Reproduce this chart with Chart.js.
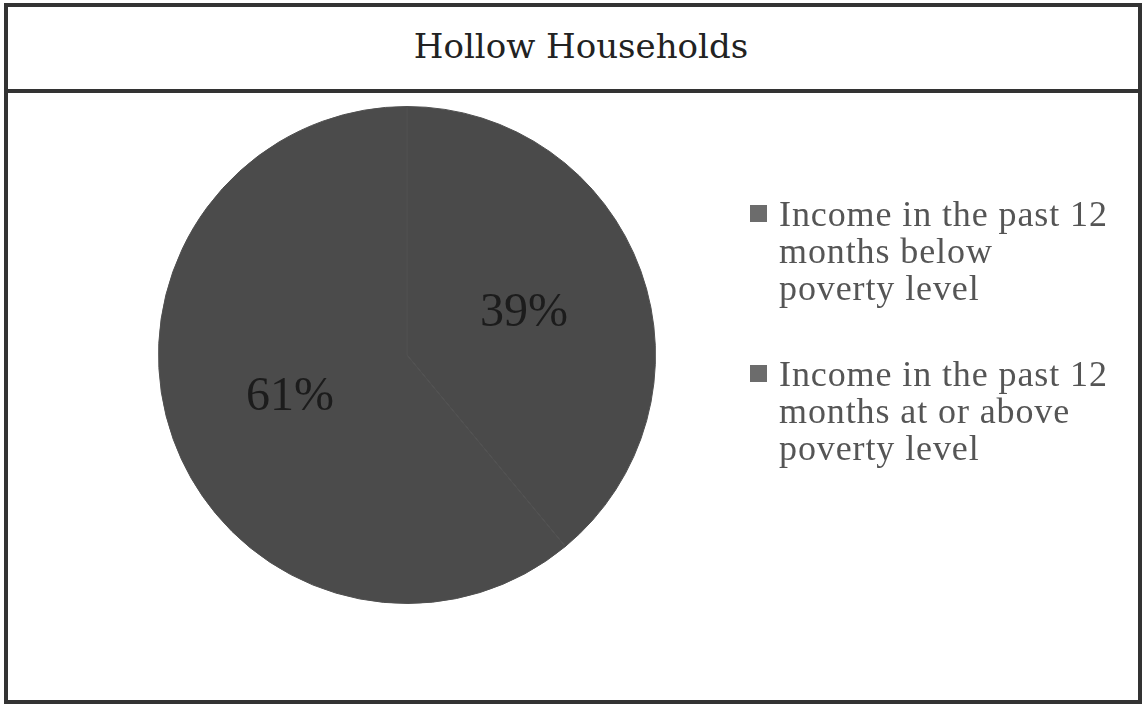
<!DOCTYPE html>
<html lang="en">
<head>
  <meta charset="UTF-8" />
  <title>Hollow Households</title>
  <script src="https://cdn.jsdelivr.net/npm/chart.js"></script>
  <style>
    body {
      margin: 0;
      background: #ffffff;
      width: 1142px;
      height: 707px;
      position: relative;
      overflow: hidden;
    }
    .frame {
      position: absolute;
      left: 4px;
      top: 3px;
      width: 1138px;
      height: 701px;
      border: 4px solid #333333;
      box-sizing: border-box;
    }
    .header {
      position: absolute;
      left: 0;
      top: 0;
      right: 0;
      height: 86px;
      border-bottom: 4px solid #333333;
      box-sizing: border-box;
    }
    .title {
      position: absolute;
      left: 0;
      right: 0;
      top: 22px;
      padding-left: 16px;
      text-align: center;
      font-family: 'DejaVu Serif', serif;
      font-size: 34px;
      line-height: 34px;
      color: #222222;
    }
    .chart-box {
      position: absolute;
      left: 8px;
      top: 89px;
      width: 1126px;
      height: 611px;
    }
    .legend {
      position: absolute;
      left: 779px;
      top: 196px;
      margin: 0;
      padding: 0;
      list-style: none;
      font-family: 'Liberation Serif', serif;
      font-size: 36px;
      line-height: 37px;
      letter-spacing: 0.9px;
      color: #555555;
    }
    .legend li {
      position: relative;
      margin-bottom: 49px;
    }
    .legend .box {
      position: absolute;
      left: -29px;
      top: 9px;
      width: 17px;
      height: 17px;
      background: #6c6c6c;
    }
  </style>
</head>
<body>
  <div class="frame">
    <div class="header">
      <div class="title">Hollow Households</div>
    </div>
  </div>
  <div class="chart-box">
    <canvas id="pieChart"></canvas>
  </div>
  <ul class="legend" id="legend"></ul>

  <script>
    const categories = [
      ["Income in the past 12", "months below", "poverty level"],
      ["Income in the past 12", "months at or above", "poverty level"]
    ];
    const shares = [39, 61];
    const sliceColors = ["#4a4a4a", "#4b4b4b"];

    // percentage text drawn in the middle of each slice
    const sliceLabels = {
      id: "sliceLabels",
      afterDatasetsDraw(chart) {
        const ctx = chart.ctx;
        const meta = chart.getDatasetMeta(0);
        ctx.save();
        ctx.font = "48px 'Liberation Serif', serif";
        ctx.fillStyle = "#1c1c1c";
        ctx.textAlign = "center";
        ctx.textBaseline = "middle";
        meta.data.forEach((arc, i) => {
          const pos = arc.tooltipPosition();
          ctx.fillText(shares[i] + "%", pos.x, pos.y);
        });
        ctx.restore();
      }
    };

    const chart = new Chart(document.getElementById("pieChart"), {
      type: "pie",
      data: {
        labels: categories.map(c => c.join(" ")),
        datasets: [{
          data: shares,
          backgroundColor: sliceColors,
          borderColor: "#505050",
          borderWidth: 1
        }]
      },
      options: {
        responsive: true,
        maintainAspectRatio: false,
        animation: false,
        layout: { padding: { left: 150, right: 478, top: 17, bottom: 96 } },
        plugins: {
          legend: { display: false },
          tooltip: { enabled: false }
        }
      },
      plugins: [sliceLabels]
    });

    // legend built from the chart's own labels
    const legendEl = document.getElementById("legend");
    categories.forEach((lines, i) => {
      const li = document.createElement("li");
      const box = document.createElement("span");
      box.className = "box";
      li.appendChild(box);
      lines.forEach((line, j) => {
        if (j > 0) li.appendChild(document.createElement("br"));
        li.appendChild(document.createTextNode(line));
      });
      legendEl.appendChild(li);
    });
  </script>
</body>
</html>
